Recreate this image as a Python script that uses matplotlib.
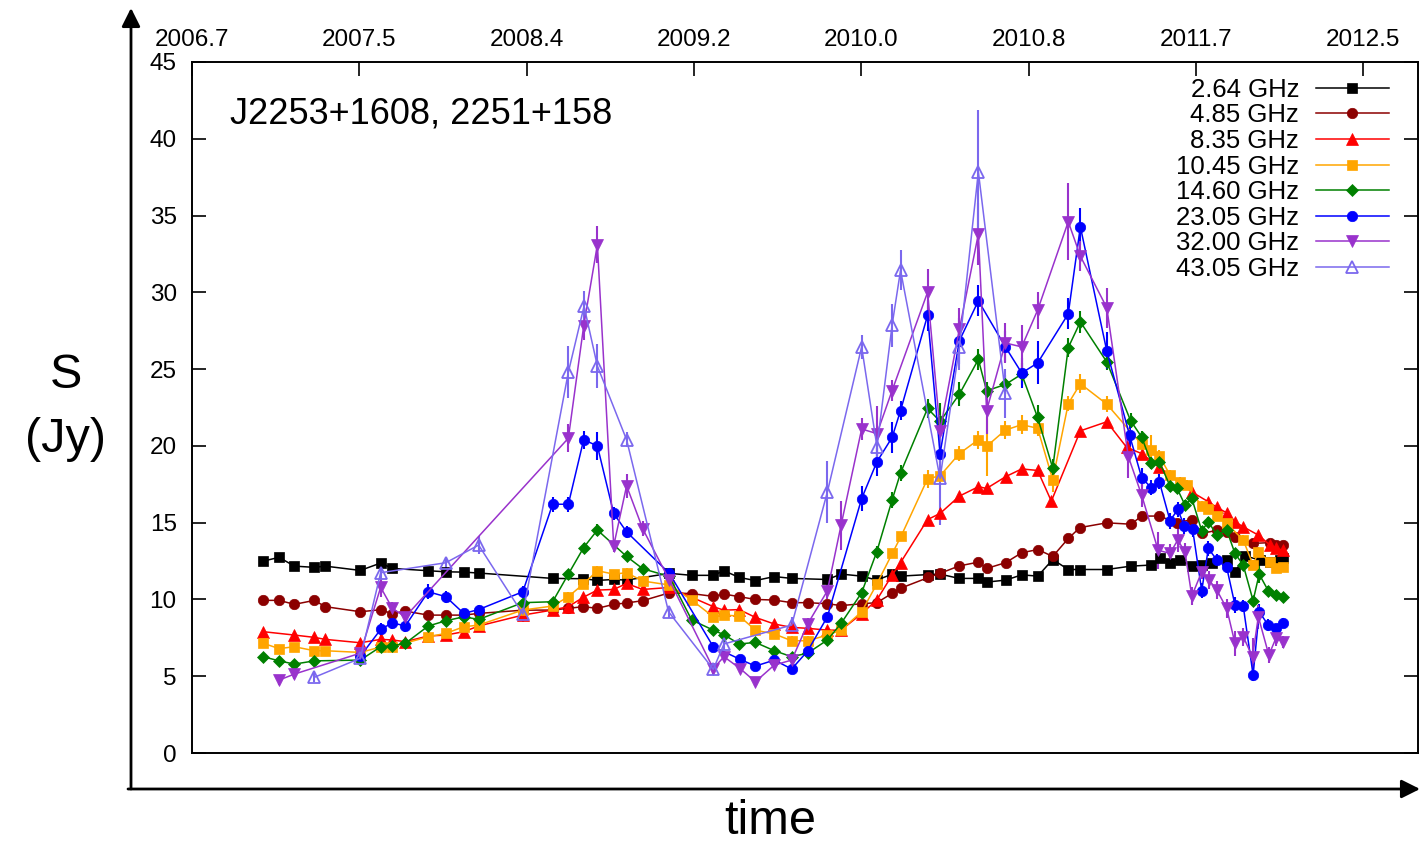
import numpy as np
import matplotlib
matplotlib.use('Agg')
import matplotlib.pyplot as plt
from matplotlib.patches import FancyArrowPatch

plt.rcParams['font.family'] = ['Liberation Sans', 'DejaVu Sans']

# ---- data (time in decimal years, flux density in Jy) ----
t_264 = [2007.054, 2007.132, 2007.208, 2007.307, 2007.361, 2007.535, 2007.636, 2007.694, 2007.872, 2007.959,
         2008.048, 2008.122, 2008.489, 2008.641, 2008.711, 2008.792, 2008.856, 2009.068, 2009.179, 2009.286,
         2009.339, 2009.415, 2009.495, 2009.589, 2009.675, 2009.852, 2009.920, 2010.022, 2010.097, 2010.174,
         2010.215, 2010.353, 2010.411, 2010.505, 2010.601, 2010.643, 2010.737, 2010.816, 2010.896, 2010.970,
         2011.047, 2011.105, 2011.238, 2011.358, 2011.458, 2011.502, 2011.552, 2011.602, 2011.660, 2011.709,
         2011.759, 2011.833, 2011.874, 2011.924, 2011.998, 2012.048, 2012.098, 2012.114]
s_264 = [12.5, 12.74, 12.17, 12.09, 12.17, 11.89, 12.37, 12.02, 11.87, 11.80,
         11.78, 11.72, 11.37, 11.35, 11.24, 11.30, 11.26, 11.70, 11.57, 11.57,
         11.87, 11.43, 11.23, 11.49, 11.37, 11.30, 11.65, 11.52, 11.26, 11.65,
         11.52, 11.62, 11.65, 11.37, 11.37, 11.13, 11.26, 11.60, 11.52, 12.6,
         11.95, 11.95, 11.95, 12.17, 12.24, 12.67, 12.35, 12.57, 12.17, 12.24,
         12.35, 12.57, 11.8, 12.83, 12.57, 12.45, 12.57, 12.67]

t_485 = [2007.054, 2007.132, 2007.208, 2007.307, 2007.361, 2007.535, 2007.636, 2007.694, 2007.758, 2007.872,
         2007.959, 2008.048, 2008.122, 2008.341, 2008.489, 2008.567, 2008.641, 2008.711, 2008.792, 2008.856,
         2008.936, 2009.068, 2009.179, 2009.286, 2009.339, 2009.415, 2009.495, 2009.589, 2009.675, 2009.754,
         2009.852, 2009.920, 2010.022, 2010.097, 2010.174, 2010.215, 2010.353, 2010.411, 2010.505, 2010.601,
         2010.643, 2010.737, 2010.816, 2010.896, 2010.970, 2011.047, 2011.105, 2011.238, 2011.358, 2011.411,
         2011.497, 2011.587, 2011.660, 2011.709, 2011.784, 2011.833, 2011.874, 2011.964, 2012.048, 2012.080,
         2012.114]
s_485 = [9.94, 9.94, 9.68, 9.94, 9.53, 9.2, 9.33, 9.07, 9.24, 8.98,
         8.98, 8.98, 9.09, 9.3, 9.31, 9.42, 9.53, 9.42, 9.68, 9.77,
         9.92, 10.43, 10.38, 10.2, 10.35, 10.18, 10.0, 9.96, 9.79, 9.79,
         9.72, 9.6, 9.72, 9.79, 10.4, 10.73, 11.43, 11.7, 12.18, 12.43,
         12.02, 12.4, 13.04, 13.25, 12.8, 13.97, 14.68, 14.99, 14.9, 15.43,
         15.43, 15.0, 15.2, 14.3, 14.5, 14.4, 14.08, 13.65, 13.7, 13.54,
         13.54]

t_835 = [2007.054, 2007.208, 2007.307, 2007.361, 2007.535, 2007.636, 2007.694, 2007.758, 2007.872, 2007.959,
         2008.048, 2008.122, 2008.341, 2008.489, 2008.567, 2008.641, 2008.711, 2008.792, 2008.856, 2008.936,
         2009.068, 2009.286, 2009.339, 2009.415, 2009.495, 2009.589, 2009.675, 2009.754, 2009.852, 2009.920,
         2010.022, 2010.097, 2010.174, 2010.215, 2010.349, 2010.411, 2010.507, 2010.601, 2010.642, 2010.737,
         2010.816, 2010.895, 2010.963, 2011.107, 2011.238, 2011.337, 2011.411, 2011.499, 2011.602, 2011.660,
         2011.742, 2011.784, 2011.833, 2011.874, 2011.915, 2011.990, 2012.048, 2012.080, 2012.114]
s_835 = [7.9, 7.68, 7.53, 7.4, 7.18, 7.4, 7.36, 7.25, 7.62, 7.68,
         7.9, 8.27, 8.98, 9.31, 9.53, 10.14, 10.61, 10.65, 11.04, 10.65,
         10.78, 9.53, 9.3, 9.34, 8.83, 8.4, 8.18, 8.12, 8.0, 8.0,
         9.08, 9.96, 11.6, 12.4, 15.2, 15.6, 16.73, 17.34, 17.23, 18.0,
         18.5, 18.4, 16.4, 20.98, 21.57, 19.9, 19.5, 18.6, 17.6, 17.0,
         16.36, 16.0, 15.64, 15.06, 14.73, 14.19, 13.54, 13.32, 13.2]

t_1045 = [2007.054, 2007.132, 2007.208, 2007.307, 2007.361, 2007.535, 2007.636, 2007.694, 2007.872, 2007.959,
          2008.048, 2008.122, 2008.341, 2008.489, 2008.567, 2008.641, 2008.711, 2008.792, 2008.856, 2008.936,
          2009.068, 2009.179, 2009.286, 2009.339, 2009.415, 2009.495, 2009.589, 2009.675, 2009.754, 2009.852,
          2009.920, 2010.022, 2010.097, 2010.174, 2010.217, 2010.349, 2010.411, 2010.507, 2010.601, 2010.642,
          2010.735, 2010.816, 2010.895, 2010.970, 2011.047, 2011.107, 2011.238, 2011.411, 2011.459, 2011.499,
          2011.552, 2011.602, 2011.635, 2011.709, 2011.742, 2011.784, 2011.833, 2011.915, 2011.964, 2011.990,
          2012.048, 2012.080, 2012.114]
s_1045 = [7.14, 6.8, 6.92, 6.66, 6.66, 6.55, 6.9, 6.92, 7.57, 7.79,
          8.22, 8.33, 9.31, 9.57, 10.18, 11.0, 11.87, 11.65, 11.74, 11.2,
          10.94, 9.96, 8.87, 8.98, 8.92, 8.0, 7.75, 7.31, 7.31, 7.68,
          8.0, 9.2, 11.0, 13.0, 14.1, 17.86, 18.05, 19.5, 20.4, 19.97,
          21.03, 21.38, 21.15, 17.8, 22.75, 24.05, 22.72, 20.1, 19.7, 19.34,
          18.1, 17.66, 17.45, 16.08, 15.86, 15.43, 14.95, 13.87, 12.24, 13.1,
          12.45, 12.02, 12.13]
e_1045 = [0.2, 0.2, 0.2, 0.2, 0.2, 0.2, 0.2, 0.2, 0.2, 0.2,
          0.2, 0.2, 0.3, 0.3, 0.3, 0.3, 0.3, 0.3, 0.3, 0.3,
          0.3, 0.3, 0.3, 0.3, 0.3, 0.3, 0.3, 0.3, 0.3, 0.3,
          0.3, 0.3, 0.3, 0.3, 0.3, 0.6, 0.4, 0.5, 0.6, 1.9,
          0.6, 0.6, 0.5, 0.8, 0.5, 0.6, 0.5, 0.4, 1.0, 0.4,
          0.3, 0.3, 0.3, 0.3, 0.3, 0.3, 0.3, 0.3, 0.3, 0.3,
          0.3, 0.3, 0.3]

t_1460 = [2007.054, 2007.132, 2007.208, 2007.307, 2007.535, 2007.636, 2007.694, 2007.758, 2007.872, 2007.959,
          2008.048, 2008.122, 2008.341, 2008.489, 2008.567, 2008.643, 2008.711, 2008.856, 2008.936, 2009.068,
          2009.179, 2009.286, 2009.339, 2009.415, 2009.495, 2009.589, 2009.675, 2009.754, 2009.852, 2009.920,
          2010.022, 2010.097, 2010.173, 2010.215, 2010.349, 2010.411, 2010.507, 2010.601, 2010.642, 2010.735,
          2010.816, 2010.895, 2010.970, 2011.047, 2011.107, 2011.238, 2011.356, 2011.411, 2011.459, 2011.499,
          2011.552, 2011.587, 2011.626, 2011.660, 2011.709, 2011.742, 2011.784, 2011.833, 2011.874, 2011.915,
          2011.964, 2011.994, 2012.039, 2012.080, 2012.114]
s_1460 = [6.27, 6.0, 5.79, 6.0, 6.05, 6.92, 6.98, 7.14, 8.27, 8.61,
          8.87, 8.7, 9.79, 9.85, 11.65, 13.38, 14.52, 12.8, 12.0, 11.5,
          8.66, 8.0, 7.7, 7.1, 7.2, 6.66, 6.27, 6.5, 7.36, 8.44,
          10.44, 13.1, 16.47, 18.24, 22.44, 21.6, 23.37, 25.63, 23.59, 24.0,
          24.67, 21.85, 18.55, 26.4, 28.08, 25.47, 21.65, 20.58, 18.9, 18.97,
          17.38, 17.23, 16.15, 16.58, 14.47, 15.06, 14.19, 14.52, 13.0, 12.24,
          9.92, 11.65, 10.57, 10.29, 10.14]
e_1460 = [0.2, 0.2, 0.2, 0.2, 0.2, 0.2, 0.2, 0.2, 0.2, 0.2,
          0.2, 0.2, 0.2, 0.2, 0.3, 0.3, 0.4, 0.3, 0.3, 0.3,
          0.2, 0.2, 0.2, 0.2, 0.2, 0.2, 0.2, 0.2, 0.2, 0.3,
          0.3, 0.4, 0.5, 0.5, 0.6, 1.2, 0.8, 0.7, 0.6, 0.6,
          0.7, 0.8, 0.6, 0.6, 0.7, 0.5, 0.5, 0.4, 0.4, 0.4,
          0.4, 0.3, 0.3, 0.3, 0.3, 0.3, 0.3, 0.3, 0.3, 0.3,
          0.3, 0.6, 0.3, 0.3, 0.3]

t_2305 = [2007.535, 2007.636, 2007.694, 2007.758, 2007.872, 2007.959, 2008.048, 2008.122, 2008.341, 2008.489,
          2008.567, 2008.643, 2008.711, 2008.792, 2008.856, 2009.068, 2009.286, 2009.419, 2009.495, 2009.589,
          2009.675, 2009.754, 2009.852, 2010.022, 2010.098, 2010.173, 2010.215, 2010.349, 2010.411, 2010.507,
          2010.601, 2010.735, 2010.816, 2010.895, 2011.047, 2011.107, 2011.238, 2011.351, 2011.411, 2011.457,
          2011.499, 2011.552, 2011.590, 2011.623, 2011.664, 2011.709, 2011.742, 2011.784, 2011.833, 2011.874,
          2011.915, 2011.964, 2011.994, 2012.039, 2012.077, 2012.114]
s_2305 = [6.3, 8.05, 8.48, 8.27, 10.5, 10.18, 9.09, 9.34, 10.5, 16.2,
          16.2, 20.4, 20.0, 15.6, 14.4, 11.7, 6.92, 6.1, 5.66, 6.05,
          5.47, 6.64, 8.87, 16.57, 18.97, 20.55, 22.3, 28.5, 19.5, 26.85,
          29.45, 26.45, 24.75, 25.4, 28.6, 34.27, 26.19, 20.7, 17.94, 17.29,
          17.66, 15.12, 15.86, 14.78, 14.56, 10.57, 13.32, 12.57, 12.09, 9.64,
          9.57, 5.08, 9.2, 8.33, 8.12, 8.48]
e_2305 = [0.3, 0.4, 0.4, 0.4, 0.5, 0.4, 0.3, 0.3, 0.4, 0.5,
          0.5, 0.6, 0.9, 0.4, 0.4, 0.3, 0.3, 0.3, 0.3, 0.3,
          0.3, 0.3, 0.3, 0.8, 0.9, 1.0, 0.6, 1.0, 0.6, 1.5,
          1.0, 1.0, 1.0, 1.4, 1.0, 1.2, 1.2, 0.8, 0.6, 0.5,
          0.5, 0.5, 0.5, 0.5, 0.5, 0.5, 0.5, 0.4, 0.4, 0.5,
          0.4, 0.4, 0.5, 0.4, 0.3, 0.3]

t_3200 = [2007.132, 2007.208, 2007.535, 2007.636, 2007.694, 2007.758, 2008.567, 2008.643, 2008.711, 2008.792,
          2008.856, 2008.936, 2009.068, 2009.286, 2009.339, 2009.419, 2009.495, 2009.589, 2009.675, 2009.754,
          2009.852, 2009.920, 2010.022, 2010.098, 2010.173, 2010.349, 2010.411, 2010.507, 2010.601, 2010.642,
          2010.735, 2010.816, 2010.895, 2011.047, 2011.107, 2011.238, 2011.345, 2011.411, 2011.493, 2011.552,
          2011.590, 2011.626, 2011.660, 2011.709, 2011.746, 2011.784, 2011.833, 2011.874, 2011.915, 2011.961,
          2011.990, 2012.042, 2012.077, 2012.114]
s_3200 = [4.75, 5.14, 6.5, 10.79, 9.42, 8.87, 20.5, 27.8, 33.1, 13.5,
          17.4, 14.6, 11.26, 5.5, 6.27, 5.5, 4.64, 5.73, 6.05, 8.4,
          10.56, 14.84, 21.1, 20.8, 23.6, 30.0, 21.0, 27.6, 33.8, 22.3,
          26.7, 26.45, 28.84, 34.6, 32.36, 29.0, 19.3, 16.8, 13.2, 13.0,
          13.87, 13.1, 10.22, 11.8, 11.26, 10.61, 9.42, 7.14, 7.57, 6.27,
          8.87, 6.38, 7.47, 7.25]
e_3200 = [0.3, 0.3, 0.3, 0.6, 0.4, 0.4, 0.9, 0.9, 1.2, 0.4,
          0.8, 0.5, 0.4, 0.3, 0.3, 0.3, 0.3, 0.3, 0.3, 0.4,
          0.5, 1.6, 0.7, 1.8, 0.7, 1.5, 1.0, 1.4, 2.0, 1.5,
          1.3, 1.4, 1.2, 2.5, 1.0, 1.3, 1.4, 0.8, 1.2, 0.6,
          0.8, 0.6, 0.6, 0.5, 0.6, 0.6, 0.6, 0.8, 0.6, 1.2,
          0.8, 0.5, 0.5, 0.4]

t_4305 = [2007.307, 2007.535, 2007.636, 2007.959, 2008.122, 2008.341, 2008.567, 2008.645, 2008.711, 2008.856,
          2009.064, 2009.286, 2009.339, 2009.675, 2009.852, 2010.022, 2010.098, 2010.173, 2010.215, 2010.411,
          2010.507, 2010.601, 2010.735]
s_4305 = [4.93, 6.17, 11.74, 12.39, 13.54, 9.05, 24.8, 29.1, 25.2, 20.4,
          9.2, 5.45, 7.1, 8.33, 17.0, 26.45, 19.94, 27.86, 31.44, 17.88,
          26.45, 37.85, 23.42]
e_4305 = [0.3, 0.4, 0.5, 0.4, 0.6, 0.5, 1.7, 1.0, 1.45, 0.5,
          0.4, 0.4, 0.4, 0.5, 2.0, 0.8, 1.2, 1.4, 1.3, 3.0,
          1.5, 4.0, 1.6]

top_ticks = [2006.70, 2007.53, 2008.36, 2009.19, 2010.02, 2010.85, 2011.68, 2012.51]
top_labels = ['2006.7', '2007.5', '2008.4', '2009.2', '2010.0', '2010.8', '2011.7', '2012.5']
y_ticks = [0, 5, 10, 15, 20, 25, 30, 35, 40, 45]

series = [
    ('2.64 GHz', t_264, s_264, None, 'black', 's', 7, True),
    ('4.85 GHz', t_485, s_485, None, '#8b0000', 'o', 7.5, True),
    ('8.35 GHz', t_835, s_835, None, '#ff0000', '^', 9, True),
    ('10.45 GHz', t_1045, s_1045, e_1045, '#ffa500', 's', 7, True),
    ('14.60 GHz', t_1460, s_1460, e_1460, '#008000', 'D', 6.5, True),
    ('23.05 GHz', t_2305, s_2305, e_2305, '#0000ff', 'o', 7.5, True),
    ('32.00 GHz', t_3200, s_3200, e_3200, '#9932cc', 'v', 9, True),
    ('43.05 GHz', t_4305, s_4305, e_4305, '#7b68ee', '^', 9, False),
]

fig = plt.figure(figsize=(14.2, 8.44), dpi=100)
ax = fig.add_axes([192 / 1420, 91 / 844, 1226 / 1420, 691 / 844])

handles = []
labels = []
for label, t, s, e, c, m, ms, filled in series:
    h = ax.errorbar(t, s, yerr=e, color=c, marker=m, ms=ms, lw=1.1,
                    elinewidth=1.5, capsize=0, mec=c,
                    mfc=c if filled else 'none', mew=0.5 if filled else 1.3)
    handles.append(h[0])
    labels.append(label)

ax.set_xlim(2006.7, 2012.782)
ax.set_ylim(0, 45)
ax.set_xticks(top_ticks)
ax.set_xticklabels(top_labels)
ax.set_yticks(y_ticks)
ax.tick_params(axis='x', bottom=False, top=True, labelbottom=False, labeltop=True,
               direction='in', length=10, width=1.2, pad=8, labelsize=17.5)
ax.tick_params(axis='y', left=True, right=True, direction='in', length=10,
               width=1.2, pad=11, labelsize=17.5)
for sp in ax.spines.values():
    sp.set_linewidth(1.4)

ax.text(0.031, 0.9117, 'J2253+1608, 2251+158', transform=ax.transAxes,
        fontsize=26, va='baseline', ha='left')

ax.legend(handles, labels, loc='upper right', bbox_to_anchor=(0.9764, 0.977),
          markerfirst=False, frameon=False, fontsize=18.5, handlelength=2.85,
          handletextpad=0.65, labelspacing=0.06, borderaxespad=0, borderpad=0)

# outer arrows
fig.add_artist(FancyArrowPatch((131 / 1420, 1 - 789 / 844), (131 / 1420, 1 - 8 / 844),
                               transform=fig.transFigure,
                               arrowstyle='-|>,head_length=0.8,head_width=0.4',
                               mutation_scale=14, lw=2, color='black',
                               shrinkA=0, shrinkB=0))
fig.add_artist(FancyArrowPatch((128 / 1420, 1 - 789 / 844), (1420 / 1420, 1 - 789 / 844),
                               transform=fig.transFigure,
                               arrowstyle='-|>,head_length=0.8,head_width=0.4',
                               mutation_scale=14, lw=2, color='black',
                               shrinkA=0, shrinkB=0))

fig.text(66 / 1420, 1 - 388 / 844, 'S', fontsize=35, ha='center', va='baseline')
fig.text(66 / 1420, 1 - 452 / 844, '(Jy)', fontsize=35, ha='center', va='baseline')
fig.text(770 / 1420, 1 - 834 / 844, 'time', fontsize=35, ha='center', va='baseline')

fig.savefig('out.png', dpi=100)
